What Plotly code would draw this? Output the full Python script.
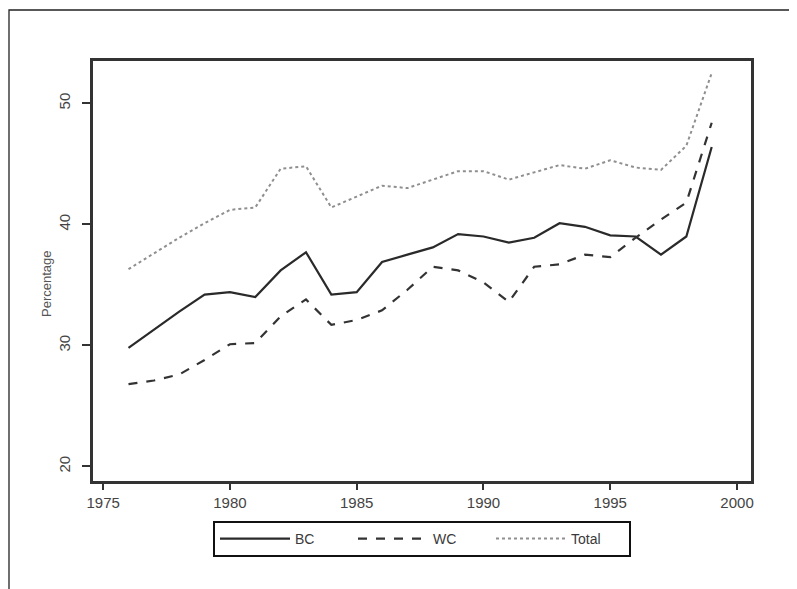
import plotly.graph_objects as go

years = list(range(1976, 2000))
bc = [29.8, 31.3, 32.8, 34.2, 34.4, 34.0, 36.2, 37.7, 34.2, 34.4, 36.9, 37.5,
      38.1, 39.2, 39.0, 38.5, 38.9, 40.1, 39.8, 39.1, 39.0, 37.5, 39.0, 46.4]
wc = [26.8, 27.1, 27.6, 28.8, 30.1, 30.2, 32.4, 33.8, 31.7, 32.1, 32.9, 34.6,
      36.5, 36.2, 35.2, 33.6, 36.5, 36.7, 37.5, 37.3, 38.9, 40.4, 41.8, 48.4]
total = [36.3, 37.6, 38.9, 40.1, 41.2, 41.4, 44.6, 44.8, 41.4, 42.3, 43.2, 43.0,
         43.7, 44.4, 44.4, 43.7, 44.3, 44.9, 44.6, 45.3, 44.7, 44.5, 46.5, 52.5]

W, H = 797, 589
OFF = 8  # page body margin
L, R, T, B = 93 - OFF, 751 - OFF, 61 - OFF, 481 - OFF

fig = go.Figure()
fig.add_trace(go.Scatter(x=years, y=bc, name="BC", mode="lines",
                         line=dict(color="#2a2a2a", width=2.2, dash="solid")))
fig.add_trace(go.Scatter(x=years, y=wc, name="WC", mode="lines",
                         line=dict(color="#333333", width=2.2, dash="dash")))
fig.add_trace(go.Scatter(x=years, y=total, name="Total", mode="lines",
                         line=dict(color="#8f8f8f", width=2, dash="dot")))

pw, ph = R - L, B - T
def px(x):
    return (x - OFF - L) / pw
def py(y):
    return (B - (y - OFF)) / ph

fig.add_shape(type="rect", xref="paper", yref="paper",
              x0=px(9), x1=px(820), y0=py(10), y1=py(620),
              line=dict(color="#222222", width=1.3), layer="below")

fig.add_annotation(text="Percentage", xref="paper", yref="paper",
                   x=px(46), y=py(284), xanchor="center", yanchor="middle",
                   textangle=-90, showarrow=False,
                   font=dict(family="Liberation Sans, Arial, sans-serif", size=13, color="#555555"))

tick_font = dict(family="Liberation Sans, Arial, sans-serif", size=15, color="#444444")
fig.update_layout(
    width=W, height=H,
    margin=dict(l=L, r=W - R, t=T, b=H - B, pad=0),
    paper_bgcolor="white", plot_bgcolor="white",
    font=dict(family="Liberation Sans, Arial, sans-serif", size=14, color="#3a3a3a"),
    showlegend=True,
    legend=dict(orientation="h", x=px(422), y=py(521), xanchor="center", yanchor="top",
                bordercolor="#111111", borderwidth=2, bgcolor="white",
                itemwidth=70, entrywidth=53,
                font=dict(size=14, color="#3a3a3a"),
                tracegroupgap=0),
    xaxis=dict(range=[1974.6, 2000.55], tickvals=[1975, 1980, 1985, 1990, 1995, 2000],
               ticks="outside", ticklen=6, tickwidth=2, tickcolor="#333",
               showline=True, linewidth=2.5, linecolor="#333", mirror=True,
               showgrid=False, zeroline=False, tickfont=tick_font),
    yaxis=dict(range=[18.8, 53.5], tickvals=[20, 30, 40, 50], tickangle=-90,
               ticks="outside", ticklen=8, tickwidth=2, tickcolor="#333",
               ticklabelstandoff=6,
               showline=True, linewidth=2.5, linecolor="#333", mirror=True,
               showgrid=False, zeroline=False, tickfont=tick_font),
)
fig.write_html("out.html")
